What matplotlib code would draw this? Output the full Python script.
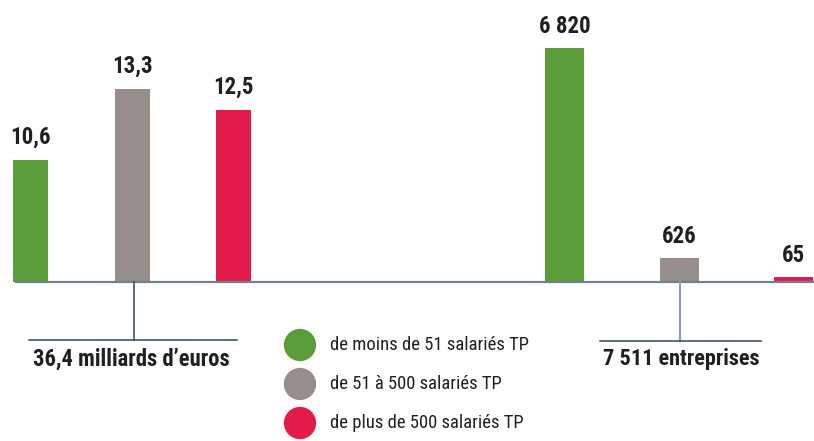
import matplotlib
matplotlib.use("Agg")
import matplotlib.pyplot as plt
from matplotlib import font_manager as fm

# ---- data ----
categories = ["de moins de 51 salariés TP", "de 51 à 500 salariés TP", "de plus de 500 salariés TP"]
montants = [10.6, 13.3, 12.5]            # milliards d'euros
montant_labels = ["10,6", "13,3", "12,5"]
entreprises = [6820, 626, 65]
entreprises_labels = ["6 820", "626", "65"]
total_montant_label = "36,4 milliards d’euros"
total_entreprises_label = "7 511 entreprises"
colors = ["#5c9c38", "#978d8a", "#e31b4b"]

# ---- font choice (condensed if available) ----
names = {f.name for f in fm.fontManager.ttflist}
stretch = "normal"
if "Roboto Condensed" in names:
    family = "Roboto Condensed"
elif "Liberation Sans Narrow" in names:
    family = "Liberation Sans Narrow"
elif any(f.name == "DejaVu Sans" and f.stretch in ("condensed", "semi-condensed") for f in fm.fontManager.ttflist):
    family = "DejaVu Sans"
    stretch = "condensed"
else:
    family = "Roboto"
plt.rcParams["font.family"] = [family, "DejaVu Sans"]
plt.rcParams["font.stretch"] = stretch
TXT = "#231f20"

W, H = 814, 441
fig = plt.figure(figsize=(W / 100, H / 100), dpi=100)
base_px = 281.5  # baseline from top

def axes_px(x0, x1):
    return fig.add_axes([x0 / W, (H - base_px) / H, (x1 - x0) / W, base_px / H])

# left group: euros
axL = axes_px(0, 300)
unitL = 101.5
axL.set_xlim(-30.5 / unitL, -30.5 / unitL + 300 / unitL)
axL.set_ylim(6.0, 6.0 + base_px * 7.3 / 192.5)
x = list(range(len(montants)))
axL.bar(x, montants, width=35 / unitL, color=colors)
for xi, v, lab in zip(x, montants, montant_labels):
    axL.annotate(lab, (xi, v), xytext=(0, 12), textcoords="offset points",
                 ha="center", va="baseline", fontsize=16.5, fontweight="bold", color=TXT,
                 annotation_clip=False)

# right group: entreprises
axR = axes_px(480, 814)
unitR = 114.5
axR.set_xlim(-(564.5 - 480) / unitR, -(564.5 - 480) / unitR + 334 / unitR)
axR.set_ylim(-60, -60 + 6880 * base_px / 233.5)
axR.bar(x, [v + 60 for v in entreprises], bottom=-60, width=39 / unitR, color=colors)
for xi, v, lab in zip(x, entreprises, entreprises_labels):
    axR.annotate(lab, (xi, v), xytext=(0, 11), textcoords="offset points",
                 ha="center", va="baseline", fontsize=16.5, fontweight="bold", color=TXT,
                 annotation_clip=False)

for ax in (axL, axR):
    ax.axis("off")
    ax.patch.set_alpha(0)

# overlay for decorations (pixel coordinates)
ov = fig.add_axes([0, 0, 1, 1], zorder=5)
ov.set_xlim(0, W)
ov.set_ylim(H, 0)
ov.axis("off")
ov.patch.set_alpha(0)

ov.plot([15, W], [base_px, base_px], color="#6f838e", lw=1.6, solid_capstyle="butt")
# left bracket
ov.plot([133.5, 133.5], [base_px, 339.5], color="#2e4756", lw=1.1)
ov.plot([29, 237], [339.5, 339.5], color="#2e4756", lw=1.1)
# right bracket
ov.plot([680, 680], [base_px, 341], color="#8c9ea8", lw=1.5)
ov.plot([600, 761], [341, 341], color="#2e4756", lw=1.1)

ov.text(131, 359, total_montant_label, ha="center", va="center", fontsize=16.3,
        fontweight="bold", color=TXT)
ov.text(681.5, 359, total_entreprises_label, ha="center", va="center", fontsize=16,
        fontweight="bold", color=TXT)

# legend
leg_y = [345, 384, 423]
for yy, c, lab in zip(leg_y, colors, categories):
    ov.scatter([300], [yy], s=540, color=c, edgecolors="none")
    ov.text(330, yy, lab, ha="left", va="center", fontsize=13.4, color=TXT)

fig.savefig("out.png", dpi=100)
